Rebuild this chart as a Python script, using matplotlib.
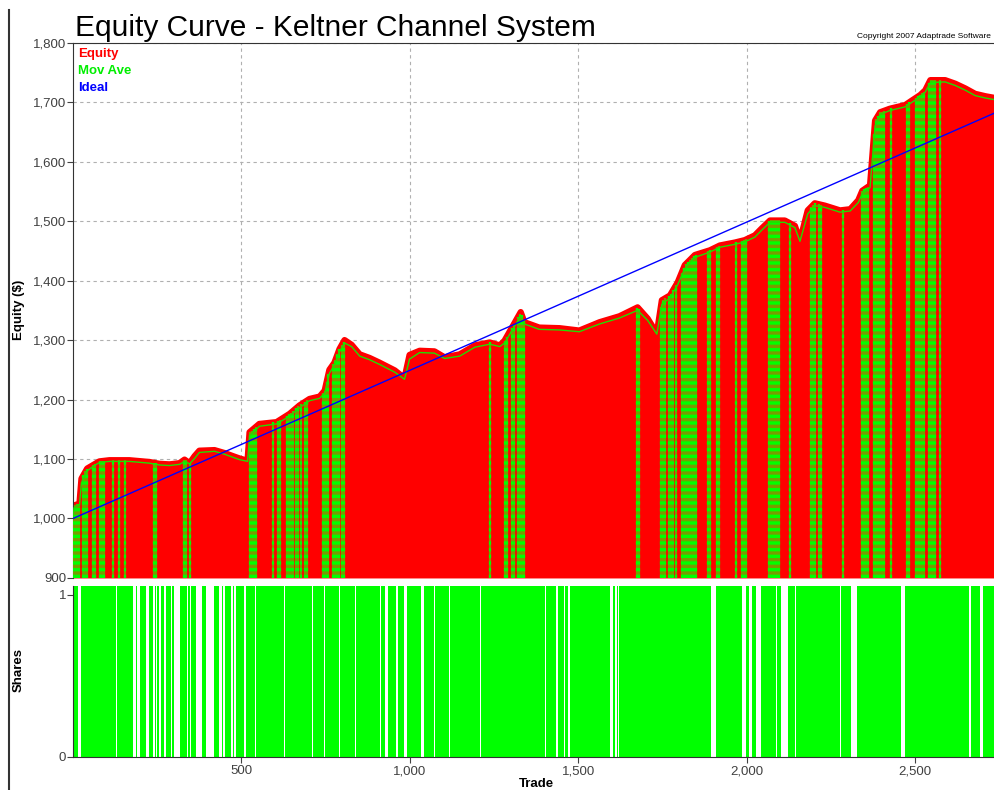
import matplotlib.pyplot as plt
import numpy as np
from matplotlib.ticker import FuncFormatter
from matplotlib.lines import Line2D

plt.rcParams['font.family'] = ['Liberation Sans', 'DejaVu Sans']

# equity curve (trade number, equity $)
trade_pts = [0, 3, 19, 25, 42, 63, 78, 108, 167, 227, 256, 286, 316, 331, 346, 361,
             375, 420, 450, 479, 494, 518, 524, 553, 604, 643, 672, 702, 732, 747,
             761, 776, 791, 806, 827, 851, 880, 910, 955, 984, 999, 1029, 1073, 1103,
             1148, 1193, 1237, 1267, 1281, 1302, 1329, 1340, 1384, 1444, 1503, 1563,
             1622, 1676, 1706, 1733, 1748, 1772, 1795, 1816, 1846, 1891, 1920, 1965,
             1994, 2024, 2045, 2069, 2113, 2143, 2158, 2181, 2202, 2232, 2277, 2307,
             2331, 2343, 2366, 2381, 2396, 2425, 2470, 2491, 2515, 2530, 2545, 2589,
             2619, 2649, 2678, 2708, 2737]
equity = [1000, 1022, 1025, 1067, 1084, 1091, 1096, 1098, 1098, 1095, 1092, 1091, 1093, 1099, 1093, 1105,
          1114, 1115, 1110, 1104, 1101, 1097, 1145, 1159, 1162, 1176, 1190, 1201, 1205, 1215,
          1250, 1262, 1285, 1300, 1292, 1276, 1270, 1262, 1249, 1236, 1275, 1282, 1281, 1271,
          1276, 1291, 1296, 1291, 1299, 1320, 1347, 1330, 1321, 1320, 1316, 1330,
          1340, 1355, 1336, 1311, 1367, 1375, 1397, 1426, 1443, 1451, 1459, 1464,
          1468, 1476, 1488, 1501, 1501, 1492, 1467, 1518, 1530, 1526, 1518, 1520,
          1535, 1551, 1560, 1669, 1683, 1689, 1695, 1703, 1712, 1720, 1737, 1737,
          1731, 1723, 1714, 1710, 1707]
mov_ave = [1000, 1018, 1022, 1060, 1080, 1089, 1094, 1096, 1096, 1093, 1090, 1089, 1091, 1096, 1092, 1101,
           1111, 1113, 1108, 1102, 1099, 1096, 1138, 1155, 1159, 1172, 1186, 1198, 1202, 1211,
           1244, 1258, 1280, 1295, 1289, 1273, 1267, 1259, 1246, 1234, 1268, 1279, 1278, 1269,
           1273, 1288, 1293, 1289, 1295, 1315, 1340, 1327, 1318, 1317, 1314, 1327,
           1337, 1350, 1333, 1310, 1360, 1371, 1393, 1420, 1439, 1448, 1456, 1461,
           1465, 1473, 1485, 1498, 1498, 1489, 1466, 1512, 1526, 1523, 1515, 1517,
           1531, 1546, 1556, 1660, 1679, 1686, 1692, 1700, 1709, 1717, 1733, 1734,
           1728, 1720, 1711, 1707, 1704]

ideal_trades = [0, 2737]
ideal_values = [1000, 1682]

n_trades = 2737

# trades where no shares were held (inclusive ranges)
flat_ranges = [(16, 22), (128, 131), (179, 185), (191, 197), (218, 224), (238, 242),
               (247, 250), (255, 257), (259, 262), (271, 275), (292, 294), (301, 316),
               (339, 342), (348, 351), (366, 369), (372, 382), (396, 417), (435, 441),
               (447, 450), (470, 473), (479, 482), (509, 512), (542, 543), (628, 629),
               (709, 711), (747, 748), (791, 792), (839, 840), (869, 870), (913, 914),
               (928, 934), (958, 964), (982, 990), (1033, 1042), (1073, 1074), (1118, 1119),
               (1157, 1158), (1210, 1211), (1252, 1253), (1359, 1360), (1403, 1404),
               (1433, 1439), (1457, 1460), (1469, 1475), (1493, 1494), (1564, 1565),
               (1594, 1603), (1609, 1613), (1618, 1621), (1626, 1627), (1801, 1802),
               (1840, 1841), (1873, 1874), (1894, 1909), (1986, 1998), (2006, 2015),
               (2027, 2042), (2054, 2055), (2087, 2088), (2102, 2123), (2143, 2146),
               (2158, 2159), (2220, 2221), (2277, 2278), (2309, 2327), (2458, 2470),
               (2660, 2666), (2693, 2702)]

# trades marked with green dashed drop lines
signal_trades = [1, 7, 13, 19, 31, 37, 42, 60, 66, 81, 87, 93, 120, 135, 155, 239, 245,
                 328, 334, 346, 524, 530, 536, 542, 595, 607, 613, 634, 640, 646, 652,
                 663, 669, 678, 690, 696, 741, 747, 753, 758, 773, 779, 785, 791, 797,
                 803, 1237, 1281, 1287, 1302, 1308, 1320, 1326, 1332, 1338, 1674, 1680,
                 1745, 1751, 1757, 1769, 1775, 1781, 1790, 1807, 1813, 1819, 1825, 1831,
                 1837, 1843, 1849, 1885, 1891, 1911, 1917, 1968, 1986, 1992, 1998, 2066,
                 2072, 2078, 2084, 2090, 2096, 2129, 2191, 2197, 2203, 2215, 2221, 2286,
                 2343, 2349, 2355, 2361, 2378, 2384, 2390, 2396, 2402, 2408, 2428, 2476,
                 2482, 2503, 2509, 2515, 2521, 2526, 2541, 2547, 2553, 2559, 2574]

RED = '#ff0000'
GREEN = '#00ff00'
BLUE = '#0000ff'
TICK = '#404040'

fig = plt.figure(figsize=(9.95, 7.9), dpi=100)
ax = fig.add_axes([0.0734, 0.2684, 0.9266, 0.6776])
ax2 = fig.add_axes([0.0734, 0.0418, 0.9266, 0.2165])

# equity panel
ax.fill_between(trade_pts, equity, 900, color=RED, lw=0, zorder=2)
ax.plot(trade_pts, equity, color=RED, lw=4.5, solid_capstyle='round', zorder=2)
sig_top = np.interp(signal_trades, trade_pts, equity)
ax.vlines(signal_trades, 900, sig_top, colors='#7a9a00', lw=1.6, zorder=3)
ax.vlines(signal_trades, 900, sig_top, colors=GREEN, lw=1.6,
          linestyles=(0, (1.5, 1.5)), zorder=3)
ax.plot(trade_pts, mov_ave, color='#22dd00', lw=1.0, zorder=4)
ax.plot(ideal_trades, ideal_values, color=BLUE, lw=1.0, zorder=5)

ax.set_xlim(0, n_trades)
ax.set_ylim(900, 1800)
ax.set_yticks(np.arange(900, 1801, 100))
ax.set_xticks([500, 1000, 1500, 2000, 2500])
ax.tick_params(axis='x', length=0, labelbottom=False)
ax.tick_params(axis='y', length=4, color=TICK, labelcolor=TICK, labelsize=9.5, pad=1)
ax.yaxis.set_major_formatter(FuncFormatter(lambda v, p: f'{v:,.0f}'))
ax.grid(True, color='#b0b0b0', linestyle=(0, (3, 3)), lw=0.8, zorder=0)
ax.set_axisbelow(True)
for s in ['right', 'bottom']:
    ax.spines[s].set_visible(False)
ax.spines['top'].set_color('#333333')
ax.spines['left'].set_color('#333333')

ax.text(0.005, 0.99, 'Equity', color=RED, fontsize=9.5, fontweight='bold',
        transform=ax.transAxes, va='top')
ax.text(0.005, 0.958, 'Mov Ave', color='#00ee00', fontsize=9.5, fontweight='bold',
        transform=ax.transAxes, va='top')
ax.text(0.005, 0.926, 'Ideal', color=BLUE, fontsize=9.5, fontweight='bold',
        transform=ax.transAxes, va='top')

# shares panel: bars fill the full panel height where shares are held
trades = np.arange(n_trades + 1)
shares = np.ones(n_trades + 1)
for a, b in flat_ranges:
    shares[a:b + 1] = 0
ax2.bar(trades, shares, width=1.0, color=GREEN, lw=0, zorder=2,
        transform=ax2.get_xaxis_transform())
ax2.set_xlim(0, n_trades)
ax2.set_ylim(0, 1.055)
ax2.set_yticks([0, 1])
ax2.set_xticks([500, 1000, 1500, 2000, 2500])
ax2.xaxis.set_major_formatter(FuncFormatter(lambda v, p: f'{v:,.0f}'))
ax2.tick_params(axis='x', length=4, color=TICK, labelcolor=TICK, labelsize=9.5, pad=2)
ax2.tick_params(axis='y', length=4, color=TICK, labelcolor=TICK, labelsize=9.5, pad=1)
ax2.grid(True, axis='x', color='#b0b0b0', linestyle=(0, (3, 3)), lw=0.8, zorder=0)
ax2.set_axisbelow(True)
for s in ['right', 'top']:
    ax2.spines[s].set_visible(False)
ax2.spines['left'].set_color('#333333')
ax2.spines['bottom'].set_color('#333333')

# labels and titles
fig.text(0.0755, 0.955, 'Equity Curve - Keltner Channel System', fontsize=21.5,
         ha='left', va='baseline')
fig.text(0.861, 0.952, 'Copyright 2007 Adaptrade Software', fontsize=6.0,
         ha='left', va='baseline')
fig.text(0.019, 0.608, 'Equity ($)', rotation=90, fontsize=9.5, fontweight='bold',
         ha='center', va='center')
fig.text(0.019, 0.152, 'Shares', rotation=90, fontsize=9.5, fontweight='bold',
         ha='center', va='center')
fig.text(0.539, 0.0, 'Trade', fontsize=9.5, fontweight='bold', ha='center',
         va='bottom')

fig.add_artist(Line2D([0.0095, 0.0095], [0.0, 0.987], color='#333333', lw=1.5,
                      transform=fig.transFigure))

fig.savefig('out.png', dpi=100)
